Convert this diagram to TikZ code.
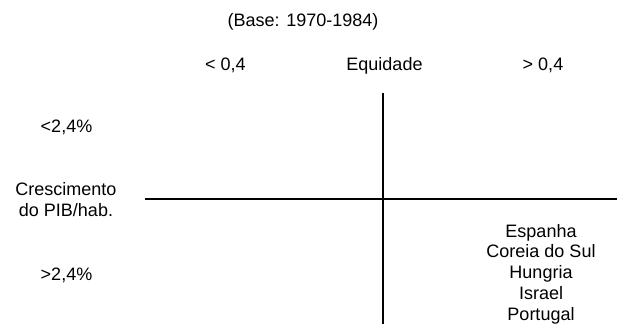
\documentclass[tikz,border=0pt]{standalone}
\usepackage{fontspec}
\setmainfont{Liberation Sans}
\usepackage{tikz}
\usetikzlibrary{positioning}

\begin{document}
\begin{tikzpicture}[
    x=1pt, y=-1pt,
    font=\fontsize{18}{20.75}\selectfont,
    lbl/.style  ={inner sep=0pt, anchor=base, align=center},
    axis/.style ={line width=2pt, black},
]
\useasboundingbox (0,0) rectangle (617,324);

% ---- Title and column headings ----
\node[lbl] (base) at (303,26) {(Base: 1970-1984)};
\node[lbl] (low)  at (225.5,70) {< 0,4};
\node[lbl] (eq)   at (384.5,70) {Equidade};
\node[lbl] (high) at (543,70) {> 0,4};

% ---- Row headings ----
\node[lbl] (slow)   at (66.5,132) {<2,4\%};
\node[lbl] (growth) at (66,216) {Crescimento\\do PIB/hab.};
\node[lbl] (fast)   at (66.5,280) {>2,4\%};

% ---- Countries ----
\node[lbl] (countries) at (541,320)
   {Espanha\\Coreia do Sul\\Hungria\\Israel\\Portugal};

% ---- Axes ----
\coordinate (vtop)   at (383,93);
\coordinate (vbot)   at (383,324);
\coordinate (hleft)  at (145,199);
\coordinate (hright) at (617,199);

\draw[axis] (vtop) -- (vbot);
\draw[axis] (hleft) -- (hright);

\end{tikzpicture}
\end{document}
